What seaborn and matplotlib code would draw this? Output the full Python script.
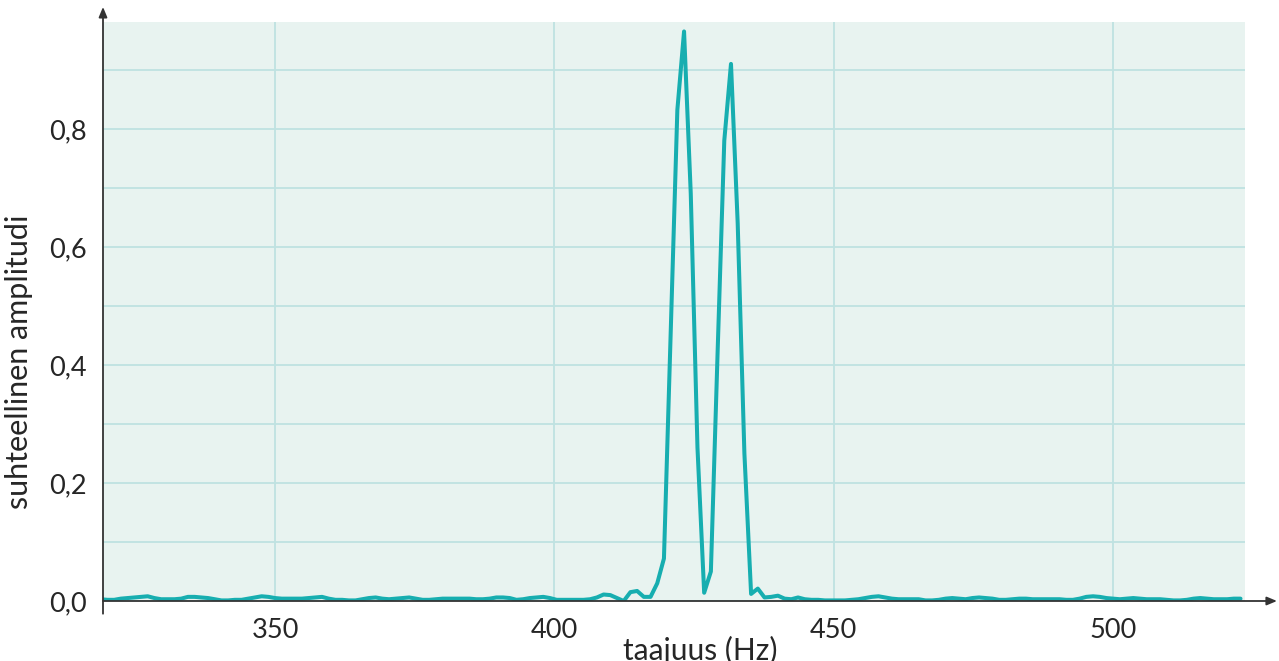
import numpy as np
import pandas as pd
import matplotlib
matplotlib.use("Agg")
import matplotlib.pyplot as plt
from matplotlib.ticker import FixedLocator
import seaborn as sns

# ---- data ----
freq_start = 318.8   # Hz
freq_step = 1.2      # Hz
amplitude = [
    0.003, 0.002, 0.002, 0.004, 0.005, 0.006, 0.007, 0.008, 0.005, 0.003,
    0.003, 0.003, 0.004, 0.007, 0.007, 0.006, 0.005, 0.003, 0.001, 0.001,
    0.002, 0.002, 0.004, 0.006, 0.008, 0.007, 0.005, 0.004, 0.004, 0.004,
    0.004, 0.005, 0.006, 0.007, 0.004, 0.002, 0.002, 0.001, 0.001, 0.003,
    0.005, 0.006, 0.004, 0.003, 0.004, 0.005, 0.006, 0.004, 0.002, 0.002,
    0.003, 0.004, 0.004, 0.004, 0.004, 0.004, 0.003, 0.003, 0.004, 0.006,
    0.006, 0.005, 0.002, 0.003, 0.005, 0.006, 0.007, 0.005, 0.002, 0.002,
    0.002, 0.002, 0.002, 0.003, 0.006, 0.011, 0.010, 0.005, 0.000, 0.015,
    0.017, 0.007, 0.007, 0.030, 0.072, 0.450, 0.832, 0.965, 0.690, 0.260,
    0.014, 0.050, 0.420, 0.780, 0.910, 0.640, 0.250, 0.012, 0.021, 0.006,
    0.007, 0.009, 0.004, 0.003, 0.006, 0.003, 0.002, 0.002, 0.001, 0.001,
    0.001, 0.001, 0.002, 0.003, 0.005, 0.007, 0.008, 0.006, 0.004, 0.003,
    0.003, 0.003, 0.003, 0.001, 0.001, 0.002, 0.004, 0.005, 0.004, 0.003,
    0.005, 0.006, 0.005, 0.004, 0.002, 0.002, 0.003, 0.004, 0.004, 0.003,
    0.003, 0.003, 0.003, 0.003, 0.002, 0.002, 0.004, 0.007, 0.008, 0.007,
    0.005, 0.004, 0.003, 0.004, 0.005, 0.004, 0.003, 0.003, 0.003, 0.002,
    0.001, 0.001, 0.002, 0.004, 0.005, 0.004, 0.003, 0.003, 0.003, 0.004,
    0.004,
]
frequency = freq_start + freq_step * np.arange(len(amplitude))

x_ticks = [350, 400, 450, 500]
x_tick_labels = ["350", "400", "450", "500"]
y_ticks = [0.0, 0.2, 0.4, 0.6, 0.8]
y_tick_labels = ["0,0", "0,2", "0,4", "0,6", "0,8"]
x_label = "taajuus (Hz)"
y_label = "suhteellinen amplitudi"

df = pd.DataFrame({"taajuus": frequency, "amplitudi": amplitude})

# ---- style ----
sns.set_style("white")
plt.rcParams["font.family"] = ["Lato", "DejaVu Sans"]

LINE = "#17aeb0"
BG = "#e8f3f0"
GRID = "#bfe2e1"
AXIS = "#333333"
TXT = "#262626"

fig = plt.figure(figsize=(12.79, 6.61), dpi=100)
ax = fig.add_axes([103 / 1279, 1 - 601 / 661, 1142 / 1279, 579 / 661])
ax.set_facecolor(BG)

sns.lineplot(data=df, x="taajuus", y="amplitudi", ax=ax, color=LINE,
             linewidth=2.9, zorder=3)

ax.set_xlim(319.2, 523.6)
ax.set_ylim(0, 0.981)

ax.xaxis.set_major_locator(FixedLocator(x_ticks))
ax.set_xticklabels(x_tick_labels)
ax.yaxis.set_major_locator(FixedLocator(y_ticks))
ax.set_yticklabels(y_tick_labels)
ax.yaxis.set_minor_locator(FixedLocator([0.1, 0.3, 0.5, 0.7, 0.9]))

ax.grid(True, which="major", color=GRID, linewidth=1.3, zorder=0)
ax.grid(True, which="minor", axis="y", color=GRID, linewidth=1.3, zorder=0)
ax.set_axisbelow(True)

ax.tick_params(axis="both", which="major", direction="out", length=7,
               width=1.3, color="#555555", labelsize=19.5, labelcolor=TXT, pad=5)
ax.tick_params(axis="y", which="minor", direction="out", length=4,
               width=1.0, color="#999999")

for s in ["top", "right", "left", "bottom"]:
    ax.spines[s].set_visible(False)

# axis lines with arrowheads
ax.annotate("", xy=(0, 1.026), xytext=(0, -0.022), xycoords="axes fraction",
            arrowprops=dict(arrowstyle="-|>,head_length=0.6,head_width=0.25",
                            color=AXIS, lw=1.3, shrinkA=0, shrinkB=0),
            annotation_clip=False)
ax.annotate("", xy=(1.028, 0), xytext=(0, 0), xycoords="axes fraction",
            arrowprops=dict(arrowstyle="-|>,head_length=0.6,head_width=0.25",
                            color=AXIS, lw=1.3, shrinkA=0, shrinkB=0),
            annotation_clip=False)

ax.set_xlabel(x_label, fontsize=21.5, color=TXT)
ax.xaxis.set_label_coords((700 - 103) / 1142, -0.061)
ax.set_ylabel(y_label, fontsize=22, color=TXT)
ax.yaxis.set_label_coords(-0.0613, (601 - 362) / 579)

fig.savefig("out.png", dpi=100, facecolor="white")
